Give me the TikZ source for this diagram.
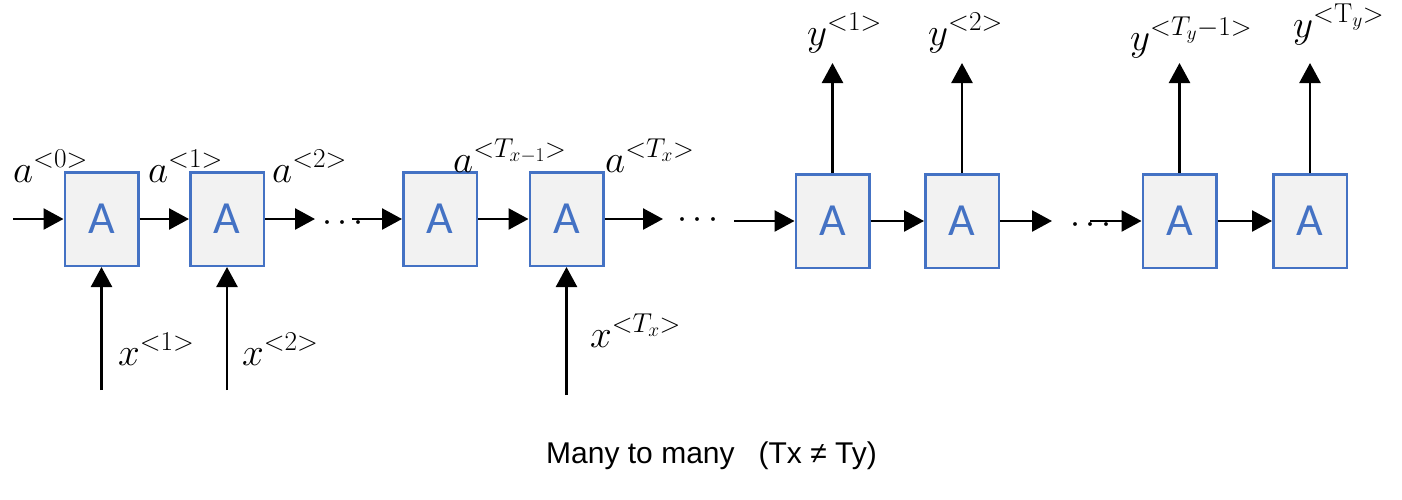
\RequirePackage{fix-cm}
\documentclass[tikz,border=0pt]{standalone}
\usepackage{fontspec}
\newfontfamily\cellfont{Carlito}
\newfontfamily\capfont{Liberation Sans}
\usetikzlibrary{arrows.meta}
\definecolor{cellblue}{HTML}{4472C4}
\definecolor{cellfill}{HTML}{F2F2F2}
\tikzset{
  cell/.style={draw=cellblue, fill=cellfill, line width=2.5pt, minimum width=73.5pt,
    minimum height=93.5pt, inner sep=0pt, text=cellblue, font=\cellfont\fontsize{46}{46}\selectfont},
  flow/.style={line width=2.5pt, -{Triangle[length=20pt,width=21pt]}},
  lbl/.style={inner sep=0pt, anchor=base west, font=\fontsize{39}{42}\selectfont},
  dots/.style={inner sep=0pt, anchor=base, font=\fontsize{36}{40}\selectfont}
}
\begin{document}
\begin{tikzpicture}[x=1pt,y=-1pt]
\useasboundingbox (0,0) rectangle (1402,499);
% cells
\node[cell] (B1) at (101.5,219) {A};
\node[cell] (B2) at (227,219) {A};
\node[cell] (B3) at (440,219) {A};
\node[cell] (B4) at (566.5,219) {A};
\node[cell] (B5) at (832.5,221) {A};
\node[cell] (B6) at (962,221) {A};
\node[cell] (B7) at (1179.5,221) {A};
\node[cell] (B8) at (1310,221) {A};
% dots
\node[dots] (dA) at (343,231) {$\cdots$};
\node[dots] (dB) at (698,228) {$\cdots$};
\node[dots] (dC) at (1091,233) {$\cdots$};
% free ends
\coordinate (a0in) at (13,219);
\coordinate (c2) at (315,219);
\coordinate (c3) at (352,219);
\coordinate (c4) at (663,219);
\coordinate (c5) at (734,221);
\coordinate (c6) at (1052,221);
\coordinate (c7) at (1090,221);
\coordinate (xin1) at (101.5,390);
\coordinate (xin2) at (227,390);
\coordinate (xin4) at (566.5,395);
\coordinate (yout5) at (832.5,63);
\coordinate (yout6) at (962,63);
\coordinate (yout7) at (1179.5,63);
\coordinate (yout8) at (1310,63);
% horizontal flow
\draw[flow] (a0in)--(B1);
\draw[flow] (B1)--(B2);
\draw[flow] (B2.east)--(c2);
\draw[flow] (c3)--(B3);
\draw[flow] (B3)--(B4);
\draw[flow] (B4.east)--(c4);
\draw[flow] (c5)--(B5);
\draw[flow] (B5)--(B6);
\draw[flow] (B6.east)--(c6);
\draw[flow] (c7)--(B7);
\draw[flow] (B7)--(B8);
% inputs and outputs
\draw[flow] (xin1)--(B1.south);
\draw[flow] (xin2)--(B2.south);
\draw[flow] (xin4)--(B4.south);
\draw[flow] (B5.north)--(yout5);
\draw[flow] (B6.north)--(yout6);
\draw[flow] (B7.north)--(yout7);
\draw[flow] (B8.north)--(yout8);
% labels
\node[lbl] (la0) at (13,182) {$a^{<0>}$};
\node[lbl] (la1) at (148,182) {$a^{<1>}$};
\node[lbl] (la2) at (272,182) {$a^{<2>}$};
\node[lbl] (laTxm) at (453,172) {$a^{<T_{x-1}>}$};
\node[lbl] (laTx) at (605,172) {$a^{<T_x>}$};
\node[lbl] (lx1) at (118,365) {$x^{<1>}$};
\node[lbl] (lx2) at (242,365) {$x^{<2>}$};
\node[lbl] (lxTx) at (590,347) {$x^{<T_x>}$};
\node[lbl] (ly1) at (807,45) {$y^{<1>}$};
\node[lbl] (ly2) at (928,45) {$y^{<2>}$};
\node[lbl] (lyTym) at (1130,50) {$y^{<T_y-1>}$};
\node[lbl] (lyTy) at (1293,37) {$y^{<\mathrm{T}_y>}$};
\node[font=\capfont\fontsize{30}{33}\selectfont] (caption) at (711.5,456) {Many to many\hspace{24pt}(Tx ≠ Ty)};
\end{tikzpicture}
\end{document}
